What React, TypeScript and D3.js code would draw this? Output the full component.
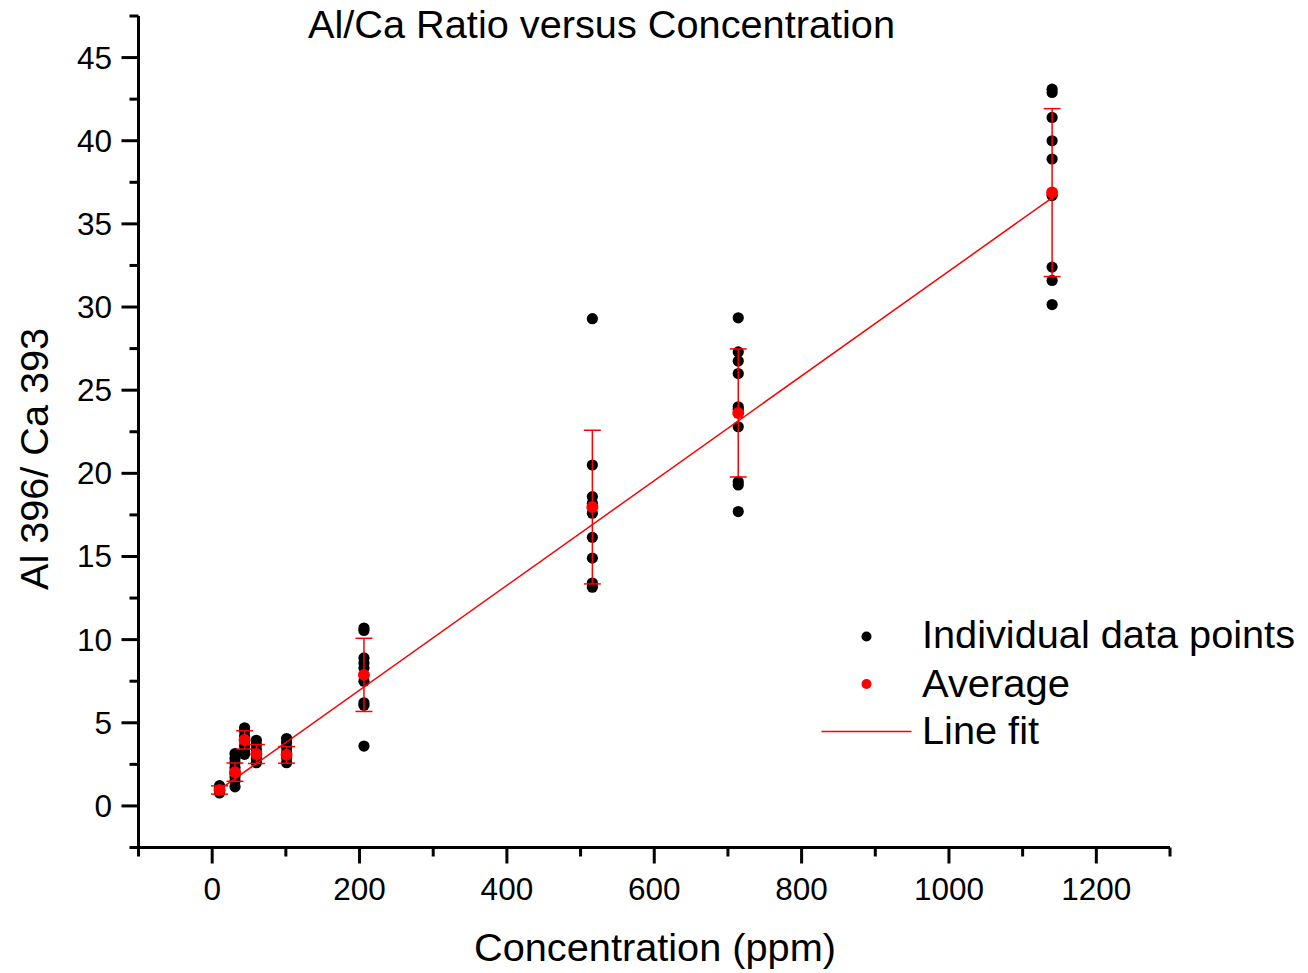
import React from "react";
import * as d3 from "d3";

const concentrations = [10, 31, 44, 60, 101, 206, 516, 714, 1140];
const individualValues: number[][] = [
  [1.22, 1.08, 0.95, 0.85, 0.78],
  [3.15, 2.85, 2.6, 2.3, 2.0, 1.75, 1.5, 1.15],
  [4.7, 4.5, 4.2, 3.9, 3.6, 3.3, 3.1],
  [3.95, 3.7, 3.4, 3.1, 2.85, 2.6],
  [4.05, 3.8, 3.5, 3.2, 2.9, 2.6],
  [10.7, 10.55, 8.9, 8.6, 8.3, 7.5, 6.2, 6.05, 3.6],
  [29.3, 20.5, 18.6, 18.2, 17.6, 16.15, 14.9, 13.4, 13.15],
  [29.35, 27.3, 26.75, 26.0, 24.0, 23.85, 22.8, 19.5, 19.3, 17.7],
  [43.1, 42.9, 41.4, 40.0, 38.9, 36.7, 32.4, 31.6, 30.15],
];
const averages = [0.96, 2.03, 3.97, 3.12, 3.07, 7.88, 17.97, 23.63, 36.88];
const stdDevs = [0.25, 0.55, 0.55, 0.57, 0.5, 2.2, 4.62, 3.85, 5.05];
const fitSlope = 0.0315;
const fitIntercept = 0.66;
const fitRange = [10, 1140];

const xMajorTicks = [0, 200, 400, 600, 800, 1000, 1200];
const yMajorTicks = [0, 5, 10, 15, 20, 25, 30, 35, 40, 45];

const title = "Al/Ca Ratio versus Concentration";
const xTitle = "Concentration (ppm)";
const yTitle = "Al 396/ Ca 393";
const legendLabels = ["Individual data points", "Average", "Line fit"];

const FONT = "'Liberation Sans', Arial, Helvetica, sans-serif";

export default function App() {
  const W = 1308, H = 973;
  const x = d3.scaleLinear().domain([-100, 1300]).range([138.5, 1170]);
  const y = d3.scaleLinear().domain([-2.5, 47.5]).range([847.5, 16]);

  const xMinor = d3.range(-100, 1301, 100);
  const yMinor = d3.range(-2.5, 47.6, 2.5);

  const fitLine = d3.line<number>().x((c) => x(c)).y((c) => y(fitSlope * c + fitIntercept));

  const red = "#ff0000";

  return (
    <svg width={W} height={H} style={{ position: "absolute", left: 0, top: 0, background: "#fff" }} fontFamily={FONT}>
      <rect width={W} height={H} fill="#fff" />
      {/* title */}
      <text x={601.5} y={38} textAnchor="middle" fontSize={38} textLength={587} lengthAdjust="spacingAndGlyphs">{title}</text>

      {/* axes */}
      <line x1={x(-100)} x2={x(-100)} y1={y(47.5)} y2={y(-2.5)} stroke="#000" strokeWidth={3} />
      <line x1={x(-100) - 8} x2={x(1300)} y1={y(-2.5)} y2={y(-2.5)} stroke="#000" strokeWidth={3} />
      {yMinor.map((v) => {
        const major = Math.abs(v % 5) < 1e-6;
        return (
          <line key={"ym" + v} x1={x(-100)} x2={x(-100) - (major ? 17 : 9)} y1={y(v)} y2={y(v)} stroke="#000" strokeWidth={3} />
        );
      })}
      {xMinor.map((c) => {
        const major = c % 200 === 0;
        return (
          <line key={"xm" + c} x1={x(c)} x2={x(c)} y1={y(-2.5)} y2={y(-2.5) + (major ? 16 : 9)} stroke="#000" strokeWidth={3} />
        );
      })}
      {yMajorTicks.map((v) => (
        <text key={"yt" + v} x={112} y={y(v) + 11} textAnchor="end" fontSize={31.5}>{v}</text>
      ))}
      {xMajorTicks.map((c) => (
        <text key={"xt" + c} x={x(c)} y={900} textAnchor="middle" fontSize={31.5}>{c}</text>
      ))}
      <text x={655} y={961} textAnchor="middle" fontSize={38} textLength={362} lengthAdjust="spacingAndGlyphs">{xTitle}</text>
      <text transform={`translate(48,459) rotate(-90)`} textAnchor="middle" fontSize={39} textLength={262} lengthAdjust="spacingAndGlyphs">{yTitle}</text>

      {/* individual points */}
      {individualValues.map((vals, i) =>
        vals.map((v, j) => <circle key={`p${i}-${j}`} cx={x(concentrations[i])} cy={y(v)} r={5.6} fill="#000" />)
      )}

      {/* line fit */}
      <path d={fitLine(fitRange) || ""} fill="none" stroke={red} strokeWidth={1.5} />

      {/* error bars */}
      {averages.map((a, i) => {
        const cx = x(concentrations[i]);
        const t = y(a + stdDevs[i]);
        const b = y(a - stdDevs[i]);
        return (
          <g key={"e" + i} stroke={red} strokeWidth={1.5}>
            <line x1={cx} x2={cx} y1={t} y2={b} />
            <line x1={cx - 8.5} x2={cx + 8.5} y1={t} y2={t} />
            <line x1={cx - 8.5} x2={cx + 8.5} y1={b} y2={b} />
          </g>
        );
      })}

      {/* averages */}
      {averages.map((a, i) => (
        <circle key={"a" + i} cx={x(concentrations[i])} cy={y(a)} r={6} fill={red} />
      ))}

      {/* legend */}
      <circle cx={866.5} cy={636.5} r={5} fill="#000" />
      <text x={922} y={648} fontSize={38} textLength={373} lengthAdjust="spacingAndGlyphs">{legendLabels[0]}</text>
      <circle cx={866.5} cy={684} r={5} fill={red} />
      <text x={922} y={696.5} fontSize={38} textLength={148} lengthAdjust="spacingAndGlyphs">{legendLabels[1]}</text>
      <line x1={821.5} x2={911.5} y1={731.5} y2={731.5} stroke={red} strokeWidth={1.5} />
      <text x={922} y={744} fontSize={38} textLength={117} lengthAdjust="spacingAndGlyphs">{legendLabels[2]}</text>
    </svg>
  );
}
